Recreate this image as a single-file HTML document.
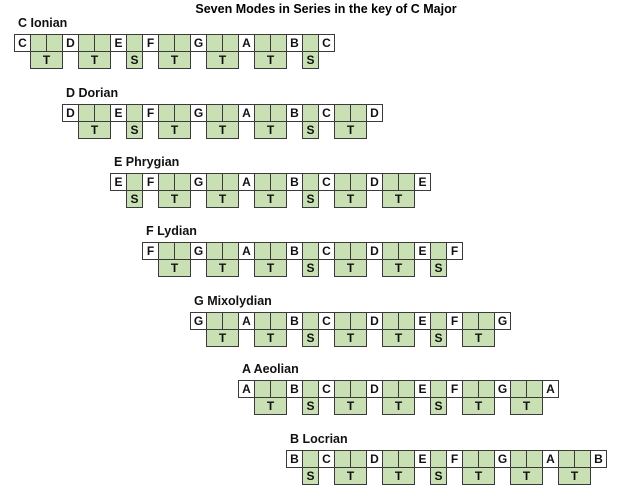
<!DOCTYPE html>
<html><head><meta charset="utf-8"><style>
body{margin:0;width:617px;height:500px;background:#fff;position:relative;overflow:hidden;font-family:"Liberation Sans",Arial,sans-serif;}
.c{position:absolute;box-sizing:border-box;border:1px solid #3a3a3a;height:18px;font-size:12px;font-weight:bold;color:#111;text-align:center;line-height:16px;}
.w{background:#fff;}
.g{background:#c8e0b4;}
.l{position:absolute;font-size:12.5px;font-weight:bold;color:#111;}
.t{position:absolute;top:2px;left:0;width:652px;text-align:center;font-size:12.5px;font-weight:bold;}
</style></head><body>
<div class="t">Seven Modes in Series in the key of C Major</div>
<div id="r"></div>
<script>
var notes=["C","D","E","F","G","A","B"],iv=[2,2,1,2,2,2,1];
var names=["C Ionian","D Dorian","E Phrygian","F Lydian","G Mixolydian","A Aeolian","B Locrian"];
var ys=[34,104,173,242,312,380,450];
var W=16,h="";
var start=14;
for(var m=0;m<7;m++){
 var x=start,y=ys[m];
 h+='<div class="l" style="left:'+(x+4)+'px;top:'+(y-18)+'px">'+names[m]+'</div>';
 for(var k=0;k<7;k++){
  var i=(m+k)%7;
  h+='<div class="c w" style="left:'+x+'px;top:'+y+'px;width:'+(W+1)+'px">'+notes[i]+'</div>';
  x+=W;
  var n=iv[i];
  for(var j=0;j<n;j++){h+='<div class="c g" style="left:'+(x+j*W)+'px;top:'+y+'px;width:'+(W+1)+'px"></div>';}
  h+='<div class="c g" style="left:'+x+'px;top:'+(y+17)+'px;width:'+(n*W+1)+'px">'+(n==2?"T":"S")+'</div>';
  x+=n*W;
 }
 h+='<div class="c w" style="left:'+x+'px;top:'+y+'px;width:'+(W+1)+'px">'+notes[m]+'</div>';
 start+=(iv[m]+1)*W;
}
document.getElementById("r").innerHTML=h;
</script>
</body></html>
